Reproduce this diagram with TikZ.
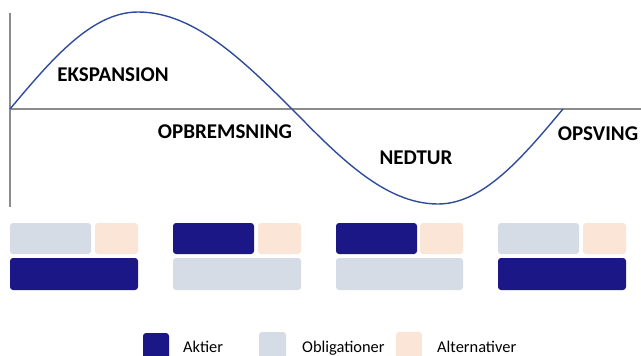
\documentclass[tikz,border=0pt]{standalone}
\usepackage{fontspec}
\setmainfont{Carlito}
\definecolor{navy}{HTML}{1B1787}
\definecolor{bondgrey}{HTML}{D6DCE5}
\definecolor{altpeach}{HTML}{FBE5D6}
\definecolor{curveblue}{HTML}{2F4C9B}
\definecolor{axisgrey}{HTML}{8C8C8C}
\begin{document}
\begin{tikzpicture}[x=1pt,y=-1pt,
    axis/.style={axisgrey,line width=1.6pt},
    cycle/.style={curveblue,line width=1.4pt},
    phase/.style={font=\fontsize{21}{24}\selectfont\bfseries,inner sep=0pt},
    legtext/.style={font=\fontsize{16.4}{19}\selectfont,inner sep=0pt,anchor=base west},
    blk/.style={rounded corners=3pt,draw=none}]
    \useasboundingbox (0,0) rectangle (641,356);
    % axes
    \coordinate (origin) at (10,109);
    \coordinate (ytop) at (10,13);
    \coordinate (ybot) at (10,207);
    \coordinate (xend) at (641,109);
    \draw[axis] (ytop) -- (ybot);
    \draw[axis] (origin) -- (xend);
    % business cycle
    \draw[cycle] plot[domain=0:90,samples=30] ({10+\x*128/90},{109-97*sin(\x)})
      -- plot[domain=90:180,samples=30] ({138+(\x-90)*154/90},{109-97*sin(\x)})
      -- plot[domain=180:270,samples=30] ({292+(\x-180)*146/90},{109-95*sin(\x)})
      -- plot[domain=270:360,samples=30] ({438+(\x-270)*125/90},{109-95*sin(\x)});
    % phases
    \node[phase] (eksp) at (113,75) {EKSPANSION};
    \node[phase] (opbr) at (225,132) {OPBREMSNING};
    \node[phase] (ned) at (416,158) {NEDTUR};
    \node[phase] (opsv) at (598,134) {OPSVING};
    % allocation blocks
    \fill[blk,bondgrey] (10,223) rectangle (91,254);
    \fill[blk,altpeach] (95,223) rectangle (138,254);
    \fill[blk,navy] (10,258) rectangle (138,290);
    \fill[blk,navy] (173,223) rectangle (254,254);
    \fill[blk,altpeach] (258,223) rectangle (301,254);
    \fill[blk,bondgrey] (173,258) rectangle (301,290);
    \fill[blk,navy] (336,223) rectangle (417,254);
    \fill[blk,altpeach] (420,223) rectangle (463,254);
    \fill[blk,bondgrey] (336,258) rectangle (463,290);
    \fill[blk,bondgrey] (498,223) rectangle (579,254);
    \fill[blk,altpeach] (583,223) rectangle (626,254);
    \fill[blk,navy] (498,258) rectangle (626,290);
    % legend
    \fill[blk,navy] (143,333) rectangle (169,362);
    \node[legtext] (aktier) at (183,352) {Aktier};
    \fill[blk,bondgrey] (259,332) rectangle (286,362);
    \node[legtext] (oblig) at (302,352) {Obligationer};
    \fill[blk,altpeach] (396,332) rectangle (422,362);
    \node[legtext] (altern) at (437,352) {Alternativer};
\end{tikzpicture}
\end{document}
